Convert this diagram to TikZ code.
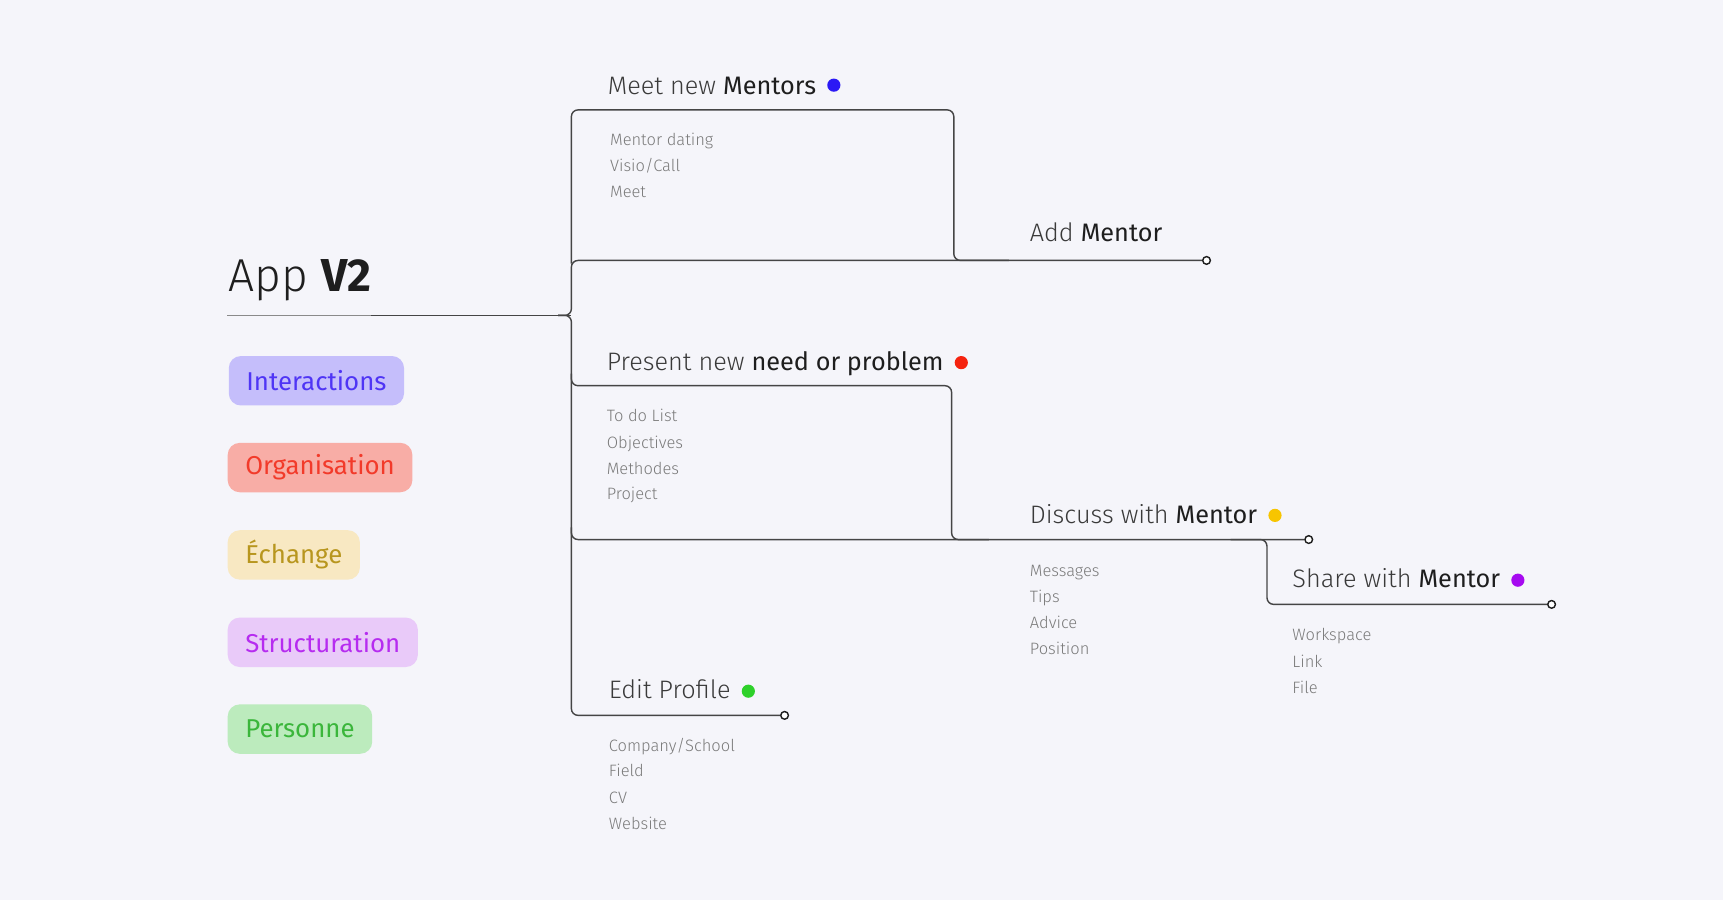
\documentclass[tikz,border=0pt]{standalone}
\usepackage{fontspec}
\setmainfont{Fira Sans Light}
\newfontfamily\medfont{Fira Sans}
\usetikzlibrary{calc,positioning}
\definecolor{bgc}{HTML}{F5F5FA}
\definecolor{linec}{HTML}{454545}
\definecolor{lightline}{HTML}{8A8A8A}
\definecolor{lbltext}{HTML}{3A3A3A}
\definecolor{boldtext}{HTML}{1E1E1E}
\definecolor{itemtext}{HTML}{7A7A7A}
\definecolor{dotblue}{HTML}{2B19F5}
\definecolor{dotred}{HTML}{F5230F}
\definecolor{dotyellow}{HTML}{F7C500}
\definecolor{dotpurple}{HTML}{A60AF0}
\definecolor{dotgreen}{HTML}{2ED12A}
\definecolor{fillI}{HTML}{C5BEFB}\definecolor{textI}{HTML}{4F35F5}
\definecolor{fillO}{HTML}{F8ADA6}\definecolor{textO}{HTML}{F23A2A}
\definecolor{fillE}{HTML}{F8E8C2}\definecolor{textE}{HTML}{B8961E}
\definecolor{fillS}{HTML}{E9CAF9}\definecolor{textS}{HTML}{B62CF0}
\definecolor{fillP}{HTML}{BCEBBD}\definecolor{textP}{HTML}{3BB63B}
\tikzset{
  branch/.style={draw=linec, line width=1.3pt, rounded corners=6pt},
  lbl/.style={anchor=base west, inner sep=0pt, text=lbltext, font=\fontsize{23}{27}\selectfont},
  item/.style={anchor=base west, inner sep=0pt, text=itemtext, font=\fontsize{15}{18}\selectfont},
  dotmark/.style={circle, fill=#1, minimum size=12pt, inner sep=0pt},
  endmark/.style={circle, draw=boldtext, fill=white, line width=1.3pt, minimum size=7pt, inner sep=0pt},
  tag/.style={anchor=west, rounded corners=11pt, fill=#1, minimum height=45pt, inner xsep=16pt, font=\medfont\fontsize{23.5}{28}\selectfont},
}
\newcommand{\bw}[1]{{\medfont\color{boldtext}#1}}
\begin{document}
\begin{tikzpicture}[x=1pt,y=-1pt]
\fill[bgc] (0,0) rectangle (1568,819);
\useasboundingbox (0,0) rectangle (1568,819);

% title
\node[anchor=base west, inner sep=0pt, text=boldtext, font=\fontsize{42}{48}\selectfont] (title) at (208,265) {App \textbf{\medfont\bfseries V2}};
\coordinate (tl) at (207,287);
\coordinate (tm) at (338,287);
\coordinate (root) at (520,287);
\draw[draw=lightline, line width=1.3pt] (tl) -- (tm);
\draw[branch] (tm) -- (root);

% legend
\node[tag=fillI, text=textI] (tagI) at (208,346.5) {Interactions};
\node[tag=fillO, text=textO] (tagO) at (207,425.5) {Organisation};
\node[tag=fillE, text=textE] (tagE) at (207,505) {Échange};
\node[tag=fillS, text=textS] (tagS) at (207,584.5) {Structuration};
\node[tag=fillP, text=textP] (tagP) at (207,663.5) {Personne};

% coordinates of the tree
\coordinate (c1) at (520,100);
\coordinate (c2) at (868,100);
\coordinate (c3) at (868,237);
\coordinate (c4) at (918,237);
\coordinate (c5) at (520,237);
\coordinate (c6) at (520,351);
\coordinate (c7) at (866,351);
\coordinate (c8) at (866,491);
\coordinate (c9) at (900,491);
\coordinate (c10) at (520,491);
\coordinate (c11) at (520,340);
\coordinate (c12) at (1120,491);
\coordinate (c13) at (1153,491);
\coordinate (c14) at (1153,550);
\coordinate (c15) at (520,651);
\coordinate (c16) at (520,480);
\coordinate (c17) at (520,240);
\coordinate (rootl) at (508,287);

\node[endmark] (endA) at (1098,237) {};
\node[endmark] (endD) at (1191,491) {};
\node[endmark] (endS) at (1412,550) {};
\node[endmark] (endP) at (714,651) {};

% branches
\draw[branch] (c17) -- (c1) -- (c2) -- (c3) -- (c4);
\draw[branch] (rootl) -- (root) -- (c5) -- (endA.west);
\draw[branch] (rootl) -- (root) -- (c6) -- (c7) -- (c8) -- (c9);
\draw[branch] (c11) -- (c10) -- (endD.west);
\draw[branch] (c12) -- (c13) -- (c14) -- (endS.west);
\draw[branch] (c16) -- (c15) -- (endP.west);

% Meet new Mentors
\node[lbl] (meet) at (553,86) {Meet new \bw{Mentors}};
\node[dotmark=dotblue] (dotA) at ($(meet.base east)+(16,-8.5)$) {};
\node[item] (m1) at (555,132) {Mentor dating};
\node[item] (m2) at (555,156) {Visio/Call};
\node[item] (m3) at (555,180) {Meet};

% Add Mentor
\node[lbl] (add) at (937,220) {Add \bw{Mentor}};

% Present new need or problem
\node[lbl] (pres) at (552,337) {Present new \bw{need or problem}};
\node[dotmark=dotred] (dotB) at ($(pres.base east)+(16,-7)$) {};
\node[item] (p1) at (552,384) {To do List};
\node[item] (p2) at (552,408) {Objectives};
\node[item] (p3) at (552,432) {Methodes};
\node[item] (p4) at (552,455) {Project};

% Discuss with Mentor
\node[lbl] (disc) at (937,476) {Discuss with \bw{Mentor}};
\node[dotmark=dotyellow] (dotC) at ($(disc.base east)+(16,-7)$) {};
\node[item] (d1) at (937,525) {Messages};
\node[item] (d2) at (937,548) {Tips};
\node[item] (d3) at (937,572) {Advice};
\node[item] (d4) at (937,596) {Position};

% Share with Mentor
\node[lbl] (share) at (1176,535) {Share with \bw{Mentor}};
\node[dotmark=dotpurple] (dotD) at ($(share.base east)+(16,-7)$) {};
\node[item] (s1) at (1176,583) {Workspace};
\node[item] (s2) at (1176,607) {Link};
\node[item] (s3) at (1176,631) {File};

% Edit Profile
\node[lbl] (edit) at (554,636) {Edit Profile};
\node[dotmark=dotgreen] (dotE) at ($(edit.base east)+(16,-7)$) {};
\node[item] (e1) at (554,684) {Company/School};
\node[item] (e2) at (554,707) {Field};
\node[item] (e3) at (554,731) {CV};
\node[item] (e4) at (554,755) {Website};
\end{tikzpicture}
\end{document}
